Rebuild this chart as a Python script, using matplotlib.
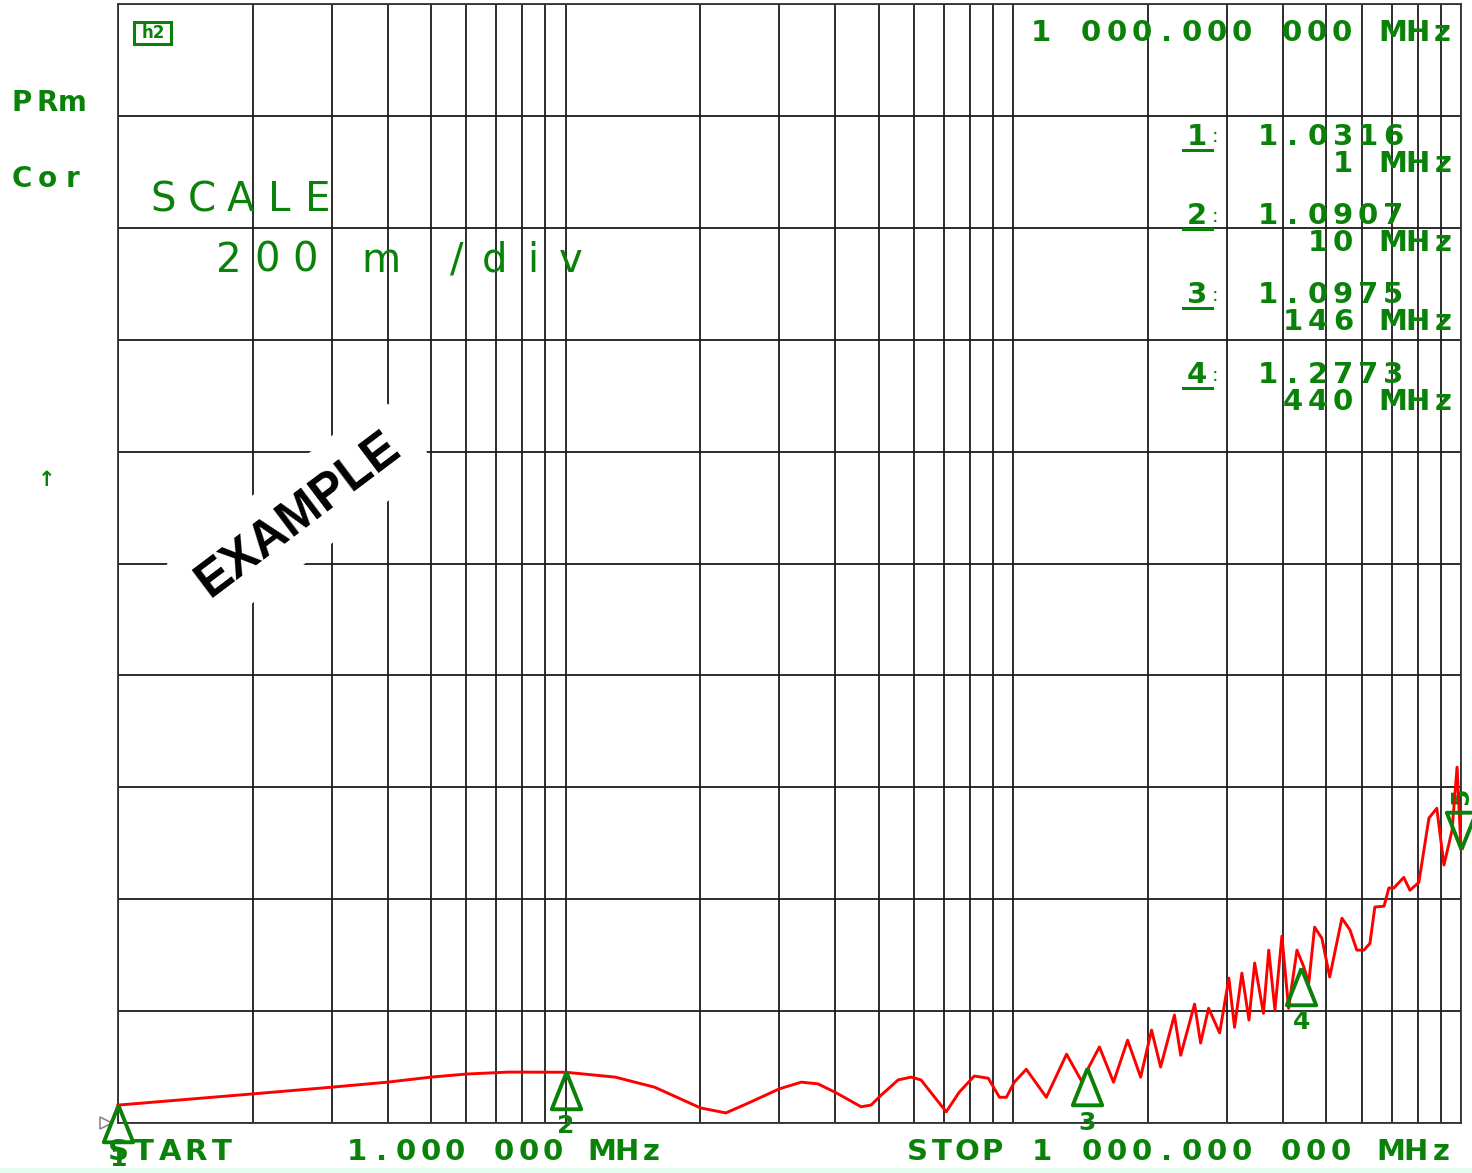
import numpy as np
import matplotlib.pyplot as plt
from matplotlib.ticker import LogLocator, MultipleLocator, NullFormatter
from matplotlib.patches import Rectangle
import matplotlib.transforms as mtransforms

# trace (MHz, linear magnitude)
freq_mhz = [1, 2, 3, 4, 5, 6, 7.45, 10, 12.9, 15.8, 20.0, 22.8, 25.9, 30.0, 33.6,
            36.6, 40.2, 45.7, 48.1, 50.7, 55.3, 59.1, 62.2, 70.8, 75.7, 81.8, 87.9,
            93.1, 96.5, 100.5, 106.9, 118.5, 131.5, 142, 155.7, 167.4, 180, 192.5,
            203.6, 213.3, 229, 236.5, 254, 262, 273, 289, 303, 312, 324, 336, 346,
            362, 372, 384, 398, 412, 430, 445, 457, 471, 489, 509, 542, 565, 585,
            607, 626, 642, 673, 690, 708, 745, 769, 805, 848, 883, 916, 955, 980, 1000]
magnitude = [1.032, 1.052, 1.064, 1.073, 1.082, 1.0875, 1.091, 1.0907, 1.082, 1.064,
             1.027, 1.018, 1.0375, 1.061, 1.073, 1.070, 1.054, 1.029, 1.032, 1.050,
             1.077, 1.082, 1.077, 1.020, 1.055, 1.084, 1.080, 1.046, 1.046, 1.073,
             1.096, 1.046, 1.123, 1.075, 1.136, 1.073, 1.148, 1.082, 1.166, 1.100,
             1.193, 1.121, 1.2125, 1.143, 1.205, 1.161, 1.259, 1.171, 1.268, 1.184,
             1.286, 1.196, 1.309, 1.202, 1.334, 1.205, 1.309, 1.28, 1.25, 1.35,
             1.330, 1.261, 1.366, 1.345, 1.309, 1.309, 1.321, 1.386, 1.3875, 1.420,
             1.420, 1.439, 1.416, 1.430, 1.545, 1.5625, 1.461, 1.523, 1.636, 1.49]

marker_ids = ["1", "2", "3", "4"]
marker_freq = [1, 10, 146, 440]
marker_val = [1.0316, 1.0907, 1.0975, 1.2773]
marker_val_txt = ["1.0316", "1.0907", "1.0975", "1.2773"]
marker_freq_txt = ["1 MHz", "10 MHz", "146 MHz", "440 MHz"]
marker5_freq = 1000
marker5_val = 1.49

GREEN = "#0a820a"
FONT = "DejaVu Sans"
W, H = 1472, 1173

fig = plt.figure(figsize=(W / 100, H / 100), dpi=100)
fig.patch.set_facecolor("white")
ax = fig.add_axes([118 / W, 50 / H, 1343 / W, 1119 / H])

ax.plot(freq_mhz, magnitude, color="#ff0000", lw=2.1, zorder=4, clip_on=False)

ax.set_xscale("log")
ax.set_xlim(1, 1000)
ax.set_ylim(1, 3)
ax.xaxis.set_major_locator(LogLocator(base=10))
ax.xaxis.set_minor_locator(LogLocator(base=10, subs=range(2, 10)))
ax.xaxis.set_minor_formatter(NullFormatter())
ax.yaxis.set_major_locator(MultipleLocator(0.2))
ax.grid(which="both", color="#1c1c1c", lw=1.3)
ax.tick_params(which="both", length=0, labelbottom=False, labelleft=False)
for s in ax.spines.values():
    s.set_color("#333333")
    s.set_linewidth(1.3)

# markers: triangles with the apex on the trace
up = [(0, 0), (-0.4, -1), (0.4, -1), (0, 0)]
down = [(0, 0), (-0.4, 1), (0.4, 1), (0, 0)]
for mid, f, v in zip(marker_ids, marker_freq, marker_val):
    ax.plot([f], [v], marker=up, ms=53, mfc="none", mec=GREEN, mew=2.8,
            ls="none", zorder=5, clip_on=False)
    ax.annotate(mid, (f, v), xytext=(0, -39), textcoords="offset points",
                ha="center", va="center", fontsize=18, color=GREEN,
                family=FONT, weight="bold", annotation_clip=False)
ax.plot([marker5_freq], [marker5_val], marker=down, ms=53, mfc="none", mec=GREEN,
        mew=2.8, ls="none", zorder=5, clip_on=False)
ax.annotate("5", (marker5_freq, marker5_val), xytext=(0, 38), textcoords="offset points",
            ha="center", va="center", fontsize=18, color=GREEN, rotation=90,
            family=FONT, weight="bold", annotation_clip=False)

# reference level pointer
trans = mtransforms.blended_transform_factory(ax.transAxes, ax.transData)
ax.plot([-0.009], [1.0], marker=">", ms=9, mfc="none", mec="#888888", mew=1.2,
        transform=trans, clip_on=False)


def hp_text(x, y, s, pitch, size, weight="bold", rot=0):
    for i, ch in enumerate(s):
        if ch != " ":
            fig.text((x + i * pitch) / W, 1 - y / H, ch, ha="center", va="center",
                     fontsize=size, color=GREEN, family=FONT,
                     weight=weight, rotation=rot)


hp_text(22, 103, "PRm", 25, 20)
hp_text(22, 179, "Cor", 25, 20)
hp_text(163, 200, "SCALE", 38.75, 29, weight="normal")
hp_text(229, 261, "200 m /div", 38, 29, weight="normal")
hp_text(47, 480, "↑", 25, 15)

hp_text(1041, 33, "1 000.000 000 MHz", 25.1, 21)
rows_y = [137, 216, 295, 375]
for mid, vt, ft, ry in zip(marker_ids, marker_val_txt, marker_freq_txt, rows_y):
    hp_text(1197, ry, mid, 25, 21)
    hp_text(1215, ry, ":", 25, 14, weight="normal")
    fig.add_artist(plt.Line2D([1183 / W, 1212 / W], [1 - (ry + 13) / H] * 2,
                              color=GREEN, lw=2.2))
    hp_text(1268, ry, vt, 25, 21)
    hp_text(1443 - 25 * (len(ft) - 1), ry + 27, ft, 25, 21)

hp_text(118, 1152, "START", 26, 21)
hp_text(357, 1152, "1.000 000 MHz", 24.5, 21)
hp_text(917, 1152, "STOP 1 000.000 000 MHz", 24.95, 21)

# small display icon, top left
fig.add_artist(Rectangle((134 / W, 1 - 44 / H), 37 / W, 22 / H, fill=False,
                         ec=GREEN, lw=2.2))
fig.text(153 / W, 1 - 33 / H, "h2", ha="center", va="center", fontsize=12,
         color=GREEN, family=FONT, weight="bold")

# watermark
fig.text(298 / W, 1 - 515 / H, "EXAMPLE", ha="center", va="center", rotation=37,
         fontsize=36, weight="bold", family="Liberation Sans", color="black",
         bbox=dict(boxstyle="round,pad=0.4", fc="white", ec="none"), zorder=6)

# light band at the bottom of the screen capture
fig.add_artist(Rectangle((0, 0), 1, 5 / H, fc="#e4fbef", ec="none"))

plt.savefig("out.png", dpi=100)
